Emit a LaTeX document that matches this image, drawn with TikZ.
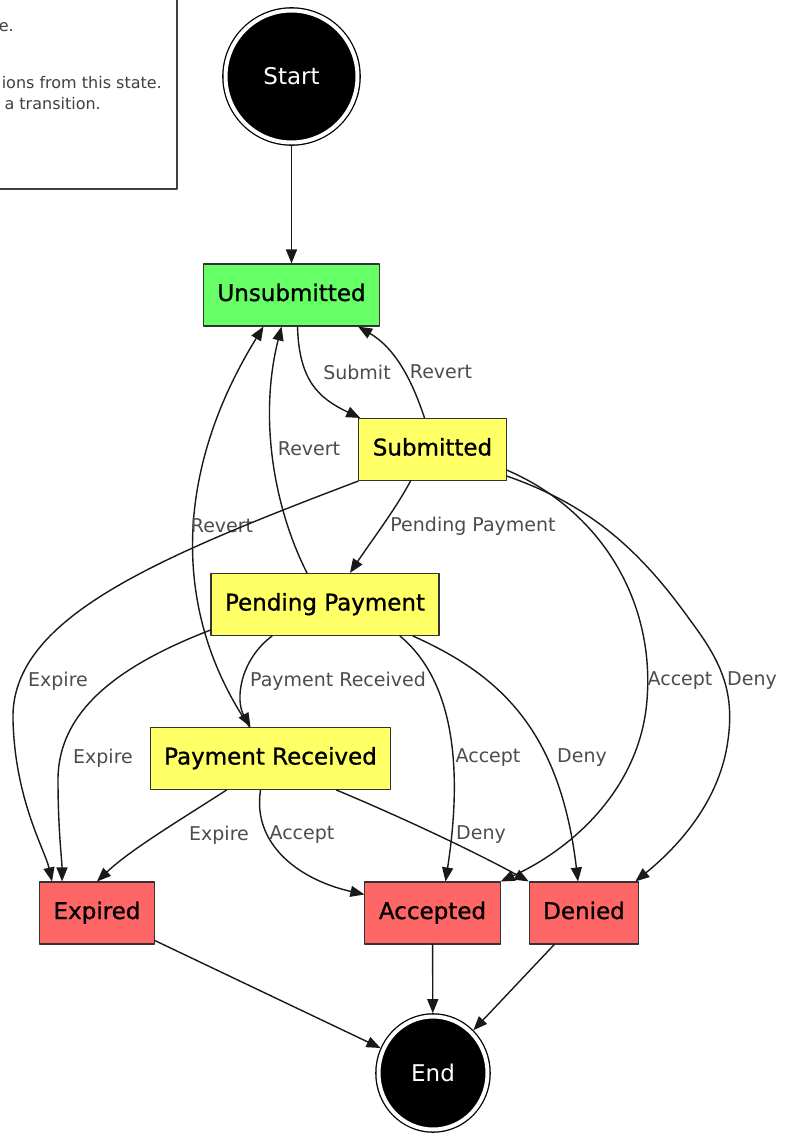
\documentclass[tikz,border=0pt]{standalone}
\usepackage{fontspec}
\setmainfont{DejaVu Sans}
\newfontfamily\statefont[BoldFont={DejaVu Sans},BoldFeatures={FakeBold=1}]{DejaVu Sans}
\usetikzlibrary{arrows.meta,positioning,shapes.geometric}

\begin{document}
\begin{tikzpicture}[line cap=round,line join=round,x=1pt,y=-1pt,
  statebox/.style={draw=black!80,line width=1.1pt,minimum height=62pt,inner xsep=14pt,text height=17pt,text depth=5pt,font=\statefont\bfseries\fontsize{23}{27}\selectfont},
  term/.style={fill=black,draw=black,double=white,double distance=4pt,line width=1.3pt,text=white,outer sep=3.3pt,font=\fontsize{23}{27}\selectfont},
  trans/.style={-{Triangle[length=14pt,width=11pt]},line width=1.4pt,draw=black!90},
  lbl/.style={text=black!70,font=\fontsize{19}{23}\selectfont,inner sep=0pt},
  legtxt/.style={text=black!75,font=\fontsize{16}{19}\selectfont,inner sep=0pt,anchor=east}]
\useasboundingbox (0,0) rectangle (789,1137);

\draw[line width=1.2pt,black!75] (177,-5) -- (177,189) -- (-5,189);
\node[legtxt] (leg1) at (14,27) {e.};
\node[legtxt] (leg2) at (162,83) {ions from this state.};
\node[legtxt] (leg3) at (101,104) {a transition.};

\node[term,circle,minimum size=132pt] (start) at (291.5,76.5) {Start};
\node[statebox,fill={rgb,255:red,102;green,255;blue,102}] (unsub) at (291.5,295) {Unsubmitted};
\node[statebox,fill={rgb,255:red,255;green,255;blue,102}] (subm) at (432.5,449.5) {Submitted};
\node[statebox,fill={rgb,255:red,255;green,255;blue,102}] (pend) at (325,604.5) {Pending Payment};
\node[statebox,fill={rgb,255:red,255;green,255;blue,102}] (recv) at (270.5,758.5) {Payment Received};
\node[statebox,fill={rgb,255:red,255;green,102;blue,102}] (expi) at (97,913) {Expired};
\node[statebox,fill={rgb,255:red,255;green,102;blue,102}] (acc) at (432.5,913) {Accepted};
\node[statebox,fill={rgb,255:red,255;green,102;blue,102}] (deny) at (584,913) {Denied};
\node[term,ellipse,minimum width=109pt,minimum height=113pt] (finish) at (433,1073) {End};

\draw[trans] (start) -- (unsub);
\draw[trans] ([xshift=6pt]unsub.south) .. controls (299,380) and (318,398) .. ([xshift=2pt]subm.north west)
  node[lbl] at (357,372) {Submit};
\draw[trans] ([xshift=-8pt]subm.north) .. controls (412,380) and (395,348) .. ([xshift=-22pt]unsub.south east)
  node[lbl] at (441,372) {Revert};
\draw[trans] ([xshift=-18pt]pend.north) .. controls (275,510) and (258,420) .. ([xshift=-10pt]unsub.south)
  node[lbl] at (309,449) {Revert};
\draw[trans] ([xshift=-21pt]recv.north) .. controls (170,610) and (175,470) .. ([xshift=-28pt]unsub.south)
  node[lbl] at (222,526) {Revert};
\draw[trans] ([xshift=-22pt]subm.south) .. controls (395,510) and (372,540) .. ([xshift=25pt]pend.north)
  node[lbl] at (473,526) {Pending Payment};
\draw[trans] (subm.south west) .. controls (150,560) and (10,620) .. (13,720) .. controls (15,800) and (45,850) .. ([xshift=13pt]expi.north west)
  node[lbl] at (58,681) {Expire};
\draw[trans] ([yshift=6pt]pend.south west) .. controls (120,665) and (58,710) .. (58,780) .. controls (58,830) and (62,860) .. ([xshift=23pt]expi.north west)
  node[lbl] at (103,758) {Expire};
\draw[trans] ([xshift=-44pt]recv.south) .. controls (180,820) and (130,850) .. (expi.north)
  node[lbl] at (219,835) {Expire};
\draw[trans] ([xshift=-53pt]pend.south) .. controls (240,660) and (235,700) .. ([xshift=-20pt]recv.north)
  node[lbl] at (338,681) {Payment Received};
\draw[trans] ([xshift=-10pt]recv.south) .. controls (252,845) and (300,880) .. ([yshift=-13pt]acc.north west)
  node[lbl] at (302,835) {Accept};
\draw[trans] ([xshift=75pt]pend.south) .. controls (465,690) and (458,800) .. ([xshift=13pt]acc.north)
  node[lbl] at (488,758) {Accept};
\draw[trans] ([xshift=88pt]pend.south) .. controls (500,675) and (560,730) .. ([xshift=-6pt]deny.north)
  node[lbl] at (582,758) {Deny};
\draw[trans] ([yshift=11pt]subm.south east) .. controls (600,510) and (655,600) .. (647,700) .. controls (640,790) and (570,850) .. (acc.north east)
  node[lbl] at (680,681) {Accept};
\draw[trans] ([yshift=5pt]subm.south east) .. controls (590,505) and (640,550) .. (690,620) .. controls (720,660) and (735,690) .. (728,740) .. controls (720,800) and (680,845) .. ([xshift=-4pt]deny.north east)
  node[lbl] at (752,681) {Deny};
\draw[trans] ([xshift=66pt]recv.south) .. controls (420,825) and (490,860) .. (deny.north west)
  node[lbl] at (481,835) {Deny};
\draw[trans] (expi) -- (finish);
\draw[trans] (acc) -- (finish);
\draw[trans] (deny) -- (finish);

\end{tikzpicture}
\end{document}
